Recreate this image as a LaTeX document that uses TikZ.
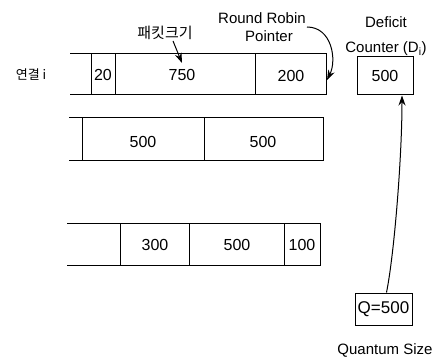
\documentclass[tikz,border=0pt]{standalone}
\usepackage{fontspec}
\setmainfont{Liberation Sans}
\newfontfamily\kr{Noto Sans CJK KR}
\usetikzlibrary{arrows.meta}
\begin{document}
\begin{tikzpicture}[x=1pt,y=-1pt,
  ln/.style={line width=1pt},
  lbl/.style={font=\fontsize{15}{18}\selectfont, inner sep=1pt},
  num/.style={font=\fontsize{16}{19}\selectfont, inner sep=1pt},
  arr/.style={line width=1pt,-{Stealth[length=10pt,width=7pt]}},
  box/.style={draw,line width=1pt,inner sep=0pt}]
\useasboundingbox (0,0) rectangle (441,358);
% row 1
\draw[ln] (70,54) -- (326,54) -- (326,95) -- (70,95);
\draw[ln] (91,54) -- (91,95) (115,54) -- (115,95) (255,54) -- (255,95);
\node[num] (a1) at (103,75) {20};
\node[num] (a2) at (182,75) {750};
\node[num] (a3) at (291,76) {200};
\node[font=\kr\fontsize{13}{16}\selectfont, inner sep=1pt] (conn) at (31,75) {연결 i};
% row 2
\draw[ln] (69,118) -- (323,118) -- (323,161) -- (69,161);
\draw[ln] (82,118) -- (82,161) (204,118) -- (204,161);
\node[num] (b1) at (143,142) {500};
\node[num] (b2) at (263,142) {500};
% row 3
\draw[ln] (67,223) -- (320,223) -- (320,265) -- (67,265);
\draw[ln] (120,223) -- (120,265) (189,223) -- (189,265) (284,223) -- (284,265);
\node[num] (c1) at (155,245) {300};
\node[num] (c2) at (237,245) {500};
\node[num] (c3) at (302,245) {100};
% labels
\node[font=\kr\fontsize{15}{18}\selectfont, inner sep=1pt] (pk) at (165,33) {패킷크기};
\coordinate (p750) at (182,63);
\draw[arr] ([xshift=8pt]pk.south) -- (p750);
\node[lbl, align=center] (rr) at (262,27) {Round Robin\\\hspace*{14pt}Pointer};
\coordinate (rrp) at (327,80);
\draw[arr] (rr.east) .. controls +(25,0) and +(10,-20) .. (rrp);
\node[lbl, align=center] (dl) at (386,36) {Deficit\\[7pt]Counter (D\textsubscript{i})};
\node[box, num, minimum width=56pt, minimum height=38pt] (dc) at (385,76) {500};
\node[box, font=\fontsize{17}{20}\selectfont, minimum width=57pt, minimum height=32pt] (q) at (383.5,309) {Q=500};
\node[lbl] (qs) at (385,350) {Quantum Size};
\draw[arr] ([xshift=3pt]q.north) .. controls +(8,-40) and +(0,60) .. ([xshift=17pt]dc.south);
\end{tikzpicture}
\end{document}
